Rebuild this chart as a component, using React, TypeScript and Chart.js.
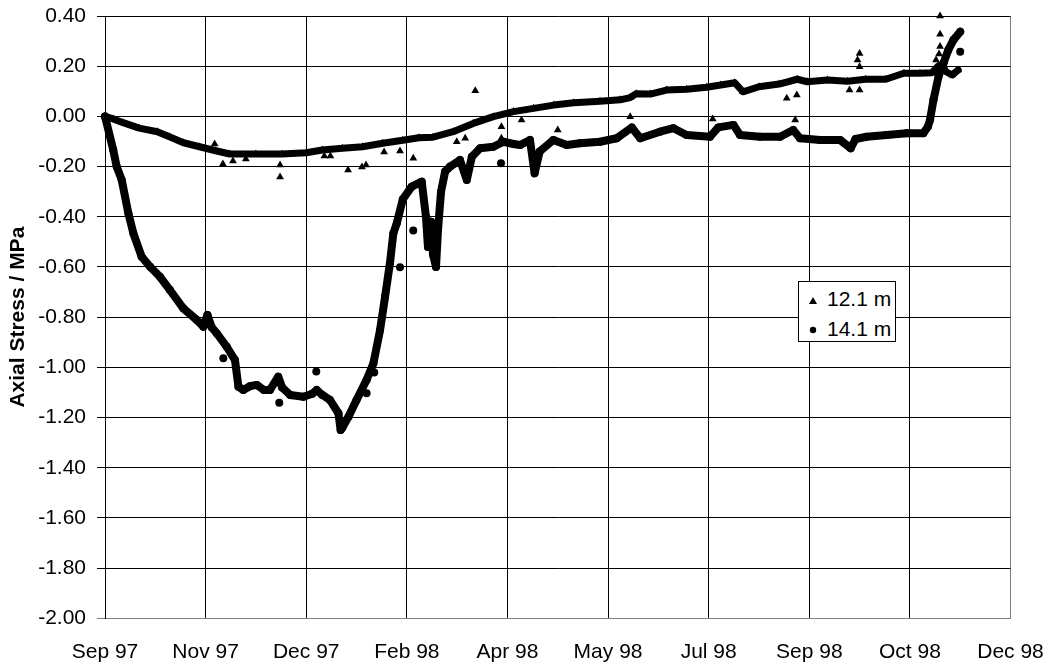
import { useEffect, useRef } from 'react';
import { Chart, registerables } from 'chart.js';

Chart.register(...registerables);

const FONT = '"Liberation Sans", Arial, Helvetica, sans-serif';

// Date axis: days since the first reading, one label every 50 days
const xTickLabels = ['Sep 97', 'Nov 97', 'Dec 97', 'Feb 98', 'Apr 98', 'May 98', 'Jul 98', 'Sep 98', 'Oct 98', 'Dec 98'];
const xStepDays = 50;

// Gauge at 12.1 m depth (main trend)
const days12 = [0, 4, 9, 17, 26, 32, 39, 47, 55, 62, 75, 88, 100, 108, 118, 128, 138, 148, 156, 163, 173, 183, 193, 203, 213, 223, 233, 246, 256, 261, 264, 271, 279, 289, 299, 306, 313, 317, 325, 335, 344, 349, 359, 369, 378, 388, 397, 405, 411, 414, 416, 418, 421, 424];
const stress12 = [0, -0.01, -0.025, -0.047, -0.061, -0.081, -0.105, -0.121, -0.137, -0.15, -0.15, -0.15, -0.145, -0.134, -0.127, -0.121, -0.107, -0.095, -0.085, -0.083, -0.061, -0.028, -0.001, 0.019, 0.032, 0.045, 0.054, 0.06, 0.066, 0.075, 0.09, 0.089, 0.105, 0.108, 0.116, 0.125, 0.134, 0.098, 0.118, 0.129, 0.148, 0.138, 0.145, 0.14, 0.148, 0.148, 0.172, 0.172, 0.174, 0.2, 0.205, 0.178, 0.165, 0.185];

// Isolated 12.1 m readings away from the trend
const scatterDays12 = [54.5, 58.6, 63.6, 70, 87, 87, 109, 112, 120.8, 127.7, 129.7, 138.7, 146.6, 153.2, 174.8, 179, 184, 197, 197, 207, 225, 261, 302, 338.8, 343.8, 343, 370, 375, 375, 375, 374, 415, 415, 415, 414.5, 413];
const scatterStress12 = [-0.11, -0.19, -0.178, -0.17, -0.194, -0.242, -0.158, -0.158, -0.214, -0.202, -0.194, -0.142, -0.138, -0.167, -0.101, -0.087, 0.102, -0.041, -0.087, -0.014, -0.054, -0.001, -0.01, 0.072, 0.085, -0.014, 0.105, 0.105, 0.198, 0.251, 0.225, 0.4, 0.327, 0.278, 0.249, 0.225];

// Gauge at 14.1 m depth (main trend)
const days14 = [0, 4.1, 5.8, 8.3, 11.6, 14.1, 18.2, 22.4, 27.3, 32.3, 38.9, 45.6, 48.9, 50.9, 53, 55.5, 60.5, 64.6, 66.3, 68.7, 72, 75.4, 79, 82, 86.1, 88, 92, 98.6, 103, 105.2, 108, 111.8, 116, 117.1, 118, 121, 125, 130, 133.4, 136.7, 139.2, 141.6, 143.3, 145, 148, 152.4, 157.4, 159.5, 160.5, 162, 163, 164.5, 165.5, 167, 169, 171.5, 176.4, 179.8, 182.3, 186.4, 193, 198, 203, 206.3, 211.2, 213.5, 216, 222.8, 229.5, 236, 246, 254.3, 261.8, 266, 275.8, 282.5, 289, 300.7, 304.8, 312.3, 315.6, 325.5, 335.5, 342, 345.4, 355.4, 365.3, 370.6, 373, 378.5, 388.5, 398.4, 406.7, 409, 410, 411.7, 414.2, 416.7, 419.1, 421.6, 425];
const stress14 = [0, -0.134, -0.2, -0.253, -0.386, -0.466, -0.559, -0.599, -0.639, -0.692, -0.765, -0.811, -0.838, -0.791, -0.84, -0.864, -0.918, -0.971, -1.077, -1.09, -1.075, -1.07, -1.09, -1.09, -1.037, -1.08, -1.11, -1.117, -1.105, -1.09, -1.11, -1.13, -1.183, -1.25, -1.24, -1.197, -1.13, -1.05, -0.984, -0.851, -0.718, -0.585, -0.466, -0.426, -0.33, -0.28, -0.26, -0.4, -0.52, -0.42, -0.55, -0.6, -0.45, -0.3, -0.22, -0.2, -0.174, -0.253, -0.161, -0.127, -0.121, -0.101, -0.11, -0.114, -0.094, -0.227, -0.14, -0.094, -0.114, -0.107, -0.101, -0.087, -0.044, -0.087, -0.061, -0.047, -0.074, -0.081, -0.044, -0.034, -0.074, -0.081, -0.081, -0.054, -0.087, -0.094, -0.094, -0.127, -0.09, -0.081, -0.074, -0.067, -0.067, -0.04, -0.014, 0.065, 0.158, 0.212, 0.265, 0.304, 0.337];

// Isolated 14.1 m readings away from the trend
const scatterDays14 = [58.8, 86.6, 105, 130, 133.8, 146.6, 153.2, 196.8, 425];
const scatterStress14 = [-0.964, -1.141, -1.017, -1.103, -1.021, -0.601, -0.455, -0.187, 0.258];

const yMin = -2;
const yMax = 0.4;
const yStep = 0.2;

const toPoints = (xs: number[], ys: number[]) => xs.map((x, i) => ({ x, y: ys[i] }));

export default function App() {
  const canvasRef = useRef<HTMLCanvasElement>(null);

  useEffect(() => {
    if (!canvasRef.current) return;
    const trend = {
      showLine: true,
      borderColor: '#000',
      backgroundColor: '#000',
      borderJoinStyle: 'round' as const,
      borderCapStyle: 'round' as const,
      clip: false as const,
    };
    const chart = new Chart(canvasRef.current, {
      type: 'scatter',
      data: {
        datasets: [
          {
            ...trend,
            label: '12.1 m',
            data: toPoints(days12, stress12),
            borderWidth: 7,
            pointStyle: 'triangle',
            pointRadius: 4.5,
            pointBorderWidth: 0,
          },
          {
            label: '12.1 m scatter',
            data: toPoints(scatterDays12, scatterStress12),
            backgroundColor: '#000',
            borderColor: '#000',
            pointStyle: 'triangle',
            pointRadius: 4.5,
            pointBorderWidth: 0,
            clip: false,
          },
          {
            ...trend,
            label: '14.1 m',
            data: toPoints(days14, stress14),
            borderWidth: 8,
            pointStyle: 'circle',
            pointRadius: 4,
            pointBorderWidth: 0,
          },
          {
            label: '14.1 m scatter',
            data: toPoints(scatterDays14, scatterStress14),
            backgroundColor: '#000',
            borderColor: '#000',
            pointStyle: 'circle',
            pointRadius: 4,
            pointBorderWidth: 0,
            clip: false,
          },
        ],
      },
      options: {
        responsive: false,
        animation: false,
        devicePixelRatio: 1,
        layout: { padding: { top: 16, right: 40.5, bottom: 0, left: 0 } },
        plugins: { legend: { display: false }, tooltip: { enabled: false } },
        scales: {
          x: {
            type: 'linear',
            min: 0,
            max: xStepDays * (xTickLabels.length - 1),
            afterFit: (scale: any) => {
              scale.height = 49.7;
              scale.paddingLeft = 0;
              scale.paddingRight = 0;
            },
            ticks: {
              stepSize: xStepDays,
              autoSkip: false,
              maxRotation: 0,
              padding: 21,
              color: '#000',
              font: { family: FONT, size: 21 },
              callback: (v: any) => xTickLabels[Math.round(Number(v) / xStepDays)] ?? '',
            },
            grid: {
              drawTicks: false,
              lineWidth: 1,
              color: (ctx: any) => (ctx.tick && ctx.tick.value === xStepDays * (xTickLabels.length - 1) ? '#808080' : '#000'),
            },
            border: { color: '#808080', width: 1 },
          },
          y: {
            min: yMin,
            max: yMax,
            afterFit: (scale: any) => {
              scale.width = 105;
              scale.paddingTop = 0;
              scale.paddingBottom = 0;
            },
            ticks: {
              stepSize: yStep,
              padding: 11,
              color: '#000',
              font: { family: FONT, size: 21 },
              callback: (v: any) => {
                const n = Number(v);
                return (Math.abs(n) < 1e-9 ? 0 : n).toFixed(2);
              },
            },
            grid: {
              tickLength: 8,
              lineWidth: 1,
              color: (ctx: any) => (ctx.tick && Math.abs(ctx.tick.value - yMin) < 1e-9 ? '#808080' : '#000'),
            },
            border: { color: '#000', width: 1 },
            title: {
              display: true,
              text: 'Axial Stress / MPa',
              color: '#000',
              font: { family: FONT, size: 21, weight: 'bold' },
              padding: { top: 6, bottom: 0 },
            },
          },
        },
      },
    });
    return () => chart.destroy();
  }, []);

  const legendText: React.CSSProperties = {
    position: 'absolute',
    left: 28,
    fontFamily: FONT,
    fontSize: 21,
    lineHeight: '21px',
    color: '#000',
    whiteSpace: 'nowrap',
  };

  return (
    <div style={{ position: 'absolute', left: 0, top: 0, width: 1051, height: 668, background: '#fff' }}>
      <canvas ref={canvasRef} width={1051} height={668} style={{ display: 'block' }} />
      <div
        style={{
          position: 'absolute',
          left: 798,
          top: 281,
          width: 98,
          height: 61,
          boxSizing: 'border-box',
          border: '1px solid #000',
          background: '#fff',
        }}
      >
        <svg style={{ position: 'absolute', left: 9, top: 14 }} width={10} height={10}>
          <polygon points="5,1 9,8 1,8" fill="#000" />
        </svg>
        <div style={{ ...legendText, top: 5.5 }}>12.1 m</div>
        <svg style={{ position: 'absolute', left: 9, top: 43 }} width={10} height={10}>
          <circle cx={5} cy={5} r={3.2} fill="#000" />
        </svg>
        <div style={{ ...legendText, top: 35.5 }}>14.1 m</div>
      </div>
    </div>
  );
}
